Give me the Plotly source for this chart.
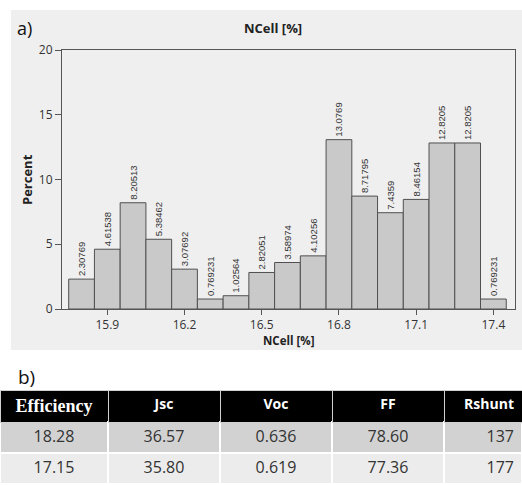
import plotly.graph_objects as go

# ---- data ----
bin_mids = [15.8, 15.9, 16.0, 16.1, 16.2, 16.3, 16.4, 16.5, 16.6, 16.7,
            16.8, 16.9, 17.0, 17.1, 17.2, 17.3, 17.4]
percents = [2.30769, 4.61538, 8.20513, 5.38462, 3.07692, 0.769231, 1.02564,
            2.82051, 3.58974, 4.10256, 13.0769, 8.71795, 7.4359, 8.46154,
            12.8205, 12.8205, 0.769231]
x_ticks = [15.9, 16.2, 16.5, 16.8, 17.1, 17.4]
y_ticks = [0, 5, 10, 15, 20]

table_headers = ["Efficiency", "Jsc", "Voc", "FF", "Rshunt"]
efficiency = ["18.28", "17.15"]
jsc = ["36.57", "35.80"]
voc = ["0.636", "0.619"]
ff = ["78.60", "77.36"]
rshunt = ["137", "177"]

W, H = 522, 485


def px(xp):
    return xp / W


def py(yp):
    return 1 - yp / H


fig = go.Figure()

fig.add_trace(go.Bar(
    x=bin_mids, y=percents, width=0.1,
    marker=dict(color="#c9c9c9", line=dict(color="#505050", width=1)),
    text=[str(p) for p in percents], textposition="outside", textangle=-90,
    constraintext="none", cliponaxis=False,
    textfont=dict(family="Liberation Sans Narrow, Liberation Sans", size=9.5, color="#333333"),
    showlegend=False, hoverinfo="skip",
    xaxis="x", yaxis="y",
))

fig.add_trace(go.Table(
    domain=dict(x=[0, 1], y=[0, py(390)]),
    columnwidth=[108, 112, 112, 112, 78],
    header=dict(
        values=table_headers,
        fill_color="#000000",
        line=dict(color="#d0d0d0", width=1),
        align=["center", "center", "center", "center", "right"],
        font=dict(family=["Liberation Serif", "Open Sans", "Open Sans", "Open Sans", "Open Sans"],
                  size=[18, 14, 14, 14, 14], color="white", weight="bold"),
        height=32,
    ),
    cells=dict(
        values=[efficiency, jsc, voc, ff, rshunt],
        fill_color=[["#d2d2d2", "#ececec"]] * 5,
        line=dict(color="white", width=2),
        align=["center", "center", "center", "center", "right"],
        font=dict(family="Open Sans", size=16, color="#333333"),
        height=31,
    ),
))

ann_common = dict(xref="paper", yref="paper", showarrow=False,
                  xanchor="center", yanchor="middle")

fig.update_layout(
    template="none",
    width=W, height=H,
    margin=dict(l=0, r=0, t=0, b=0, pad=0),
    paper_bgcolor="white",
    plot_bgcolor="white",
    font=dict(family="Open Sans", color="#333333"),
    xaxis=dict(
        domain=[px(62), px(515)], range=[15.724, 17.484], automargin=False,
        tickmode="array", tickvals=x_ticks, ticktext=[f"{v:.1f}" for v in x_ticks],
        ticks="outside", ticklen=5, tickcolor="#555555", tickwidth=1,
        showline=True, linecolor="#555555", linewidth=1, mirror=True,
        showgrid=False, zeroline=False,
        tickfont=dict(size=12, color="#333333"),
    ),
    yaxis=dict(
        domain=[py(309), py(50)], range=[0, 20], automargin=False,
        tickmode="array", tickvals=y_ticks,
        ticks="outside", ticklen=6, tickcolor="#555555", tickwidth=1,
        showline=True, linecolor="#555555", linewidth=1, mirror=True,
        showgrid=False, zeroline=False,
        tickfont=dict(size=12, color="#333333"),
    ),
    shapes=[dict(type="rect", xref="paper", yref="paper",
                 x0=px(11), x1=1.02, y0=py(350), y1=py(10),
                 fillcolor="#efefef", line=dict(width=0), layer="below")],
    annotations=[
        dict(text="NCell [%]", x=px(273), y=py(28),
             font=dict(size=13, color="#222222", weight="bold"), **ann_common),
        dict(text="a)", x=px(24), y=py(28),
             font=dict(size=18, color="#111111"), **ann_common),
        dict(text="Percent", x=px(27), y=py(180), textangle=-90,
             font=dict(size=13, color="#222222", weight="bold"), **ann_common),
        dict(text="NCell [%]", x=px(288), y=py(340),
             font=dict(size=11.5, color="#222222", weight="bold"), **ann_common),
        dict(text="b)", x=px(26), y=py(377),
             font=dict(size=19, color="#111111"), **ann_common),
    ],
)

fig.write_html("out.html", config={"displayModeBar": False},
               post_script="document.body.style.margin='0';document.body.style.overflow='hidden';")
